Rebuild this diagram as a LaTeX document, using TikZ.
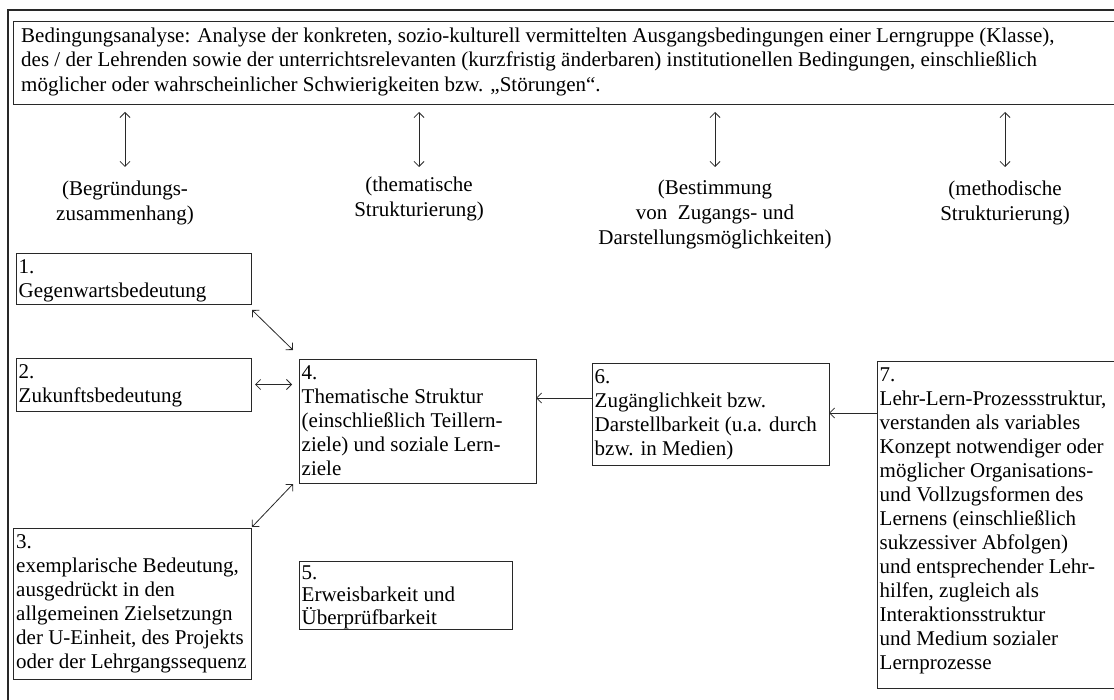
\documentclass[tikz,border=0pt]{standalone}
\usepackage{fontspec}
\setmainfont{Liberation Serif}
\usetikzlibrary{arrows.meta,calc}
\definecolor{ink}{RGB}{40,40,40}
\newcommand\cellfont{\fontsize{21}{24}\selectfont}
\newcommand\headfont{\fontsize{21}{24.7}\selectfont}
\newcommand\notefont{\fontsize{21}{25}\selectfont}

\begin{document}
\begin{tikzpicture}[x=1pt,y=-1pt,
  frame/.style={draw=ink,line width=1.4pt},
  box/.style={draw=ink,line width=0.9pt,anchor=north west,inner sep=0pt,outer sep=0pt},
  txt/.style={align=left,anchor=north west,inner xsep=2.5pt,inner ysep=3.2pt,font=\cellfont,text=black},
  lab/.style={align=center,anchor=north,inner sep=0pt,font=\notefont,text=black},
  tip/.tip={Straight Barb[length=5pt,width=10pt]},
  conn/.style={draw=ink,line width=0.8pt,-tip},
  biconn/.style={draw=ink,line width=0.8pt,tip-tip}]
\useasboundingbox (0,0) rectangle (1114,700);
\fill[white] (0,0) rectangle (1114,700);

% outer frame (only top and left edges fall inside the page)
\draw[frame] (8,700) -- (8,10) -- (1114,10);

% header box with the analysis of conditions
\node[box,minimum width=1120pt,minimum height=83pt] (head) at (13,21) {};
\node[txt,font=\headfont,inner xsep=8pt,inner ysep=3.7pt] (headtext) at (head.north west)
  {\strut Bedingungsanalyse: Analyse der konkreten, sozio-kulturell vermittelten Ausgangsbedingungen einer Lerngruppe (Klasse),\\
   des / der Lehrenden sowie der unterrichtsrelevanten (kurzfristig änderbaren) institutionellen Bedingungen, einschließlich\\
   möglicher oder wahrscheinlicher Schwierigkeiten bzw. „Störungen“.};

% column headings
\node[lab] (l1) at (125,177.5) {\strut(Begründungs-\\zusammenhang)};
\node[lab] (l2) at (419,173.5) {\strut(thematische\\Strukturierung)};
\node[lab] (l3) at (715,176.5) {\strut(Bestimmung\\von~~Zugangs- und\\Darstellungsmöglichkeiten)};
\node[lab] (l4) at (1005,177.5) {\strut(methodische\\Strukturierung)};

\draw[biconn,shorten <=8pt,shorten >=10.5pt] (head.south -| l1.north) -- (l1.north);
\draw[biconn,shorten <=8pt,shorten >=6.5pt] (head.south -| l2.north) -- (l2.north);
\draw[biconn,shorten <=8pt,shorten >=9.5pt] (head.south -| l3.north) -- (l3.north);
\draw[biconn,shorten <=8pt,shorten >=10.5pt] (head.south -| l4.north) -- (l4.north);

% numbered boxes
\node[box,minimum width=235pt,minimum height=51pt] (b1) at (16,253) {};
\node[txt] (t1) at (b1.north west) {\strut 1.\\Gegenwartsbedeutung};

\node[box,minimum width=235pt,minimum height=53pt] (b2) at (16,358) {};
\node[txt] (t2) at (b2.north west) {\strut 2.\\Zukunftsbedeutung};

\node[box,minimum width=238pt,minimum height=151pt] (b3) at (13,528) {};
\node[txt,inner xsep=3pt] (t3) at (b3.north west) {\strut 3.\\exemplarische Bedeutung,\\ausgedrückt in den\\allgemeinen Zielsetzungn\\der U-Einheit, des Projekts\\oder der Lehrgangssequenz};

\node[box,minimum width=237pt,minimum height=124pt] (b4) at (299,359) {};
\node[txt] (t4) at (b4.north west) {\strut 4.\\Thematische Struktur\\(einschließlich Teillern-\\ziele) und soziale Lern-\\ziele};

\node[box,minimum width=213pt,minimum height=68pt] (b5) at (299,561) {};
\node[txt,font=\fontsize{21}{22.5}\selectfont,inner ysep=2.5pt] (t5) at (b5.north west) {\strut 5.\\Erweisbarkeit und\\Überprüfbarkeit};

\node[box,minimum width=237pt,minimum height=102pt] (b6) at (592,363) {};
\node[txt] (t6) at (b6.north west) {\strut 6.\\Zugänglichkeit bzw.\\Darstellbarkeit (u.a. durch\\bzw. in Medien)};

\node[box,minimum width=260pt,minimum height=327pt] (b7) at (877,361) {};
\node[txt] (t7) at (b7.north west) {\strut 7.\\Lehr-Lern-Prozessstruktur,\\verstanden als variables\\Konzept notwendiger oder\\möglicher Organisations-\\und Vollzugsformen des\\Lernens (einschließlich\\sukzessiver Abfolgen)\\und entsprechender Lehr-\\hilfen, zugleich als\\Interaktionsstruktur\\und Medium sozialer\\Lernprozesse};

% relations between the boxes
\draw[biconn] ([shift={(1,6)}]b1.south east) -- ([shift={(-6,-9)}]b4.north west);
\draw[biconn,shorten <=4pt,shorten >=7pt] (b2.east) -- (b2.east -| b4.west);
\draw[biconn] ([shift={(1,-1)}]b3.north east) -- ([shift={(-6,1)}]b4.south west);

\coordinate (p6) at ($(b6.north west)+(0,35)$);
\draw[conn] (p6) -- (p6 -| b4.east);
\coordinate (p7) at ($(b7.north west)+(0,52)$);
\draw[conn] (p7) -- (p7 -| b6.east);
\end{tikzpicture}
\end{document}
